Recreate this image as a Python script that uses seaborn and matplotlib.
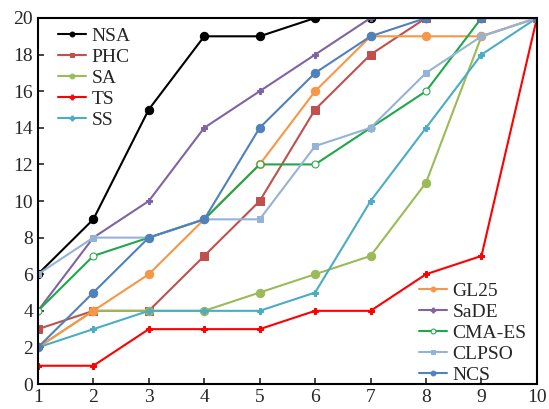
import numpy as np
import pandas as pd
import seaborn as sns
import matplotlib.pyplot as plt

sns.set_style("ticks")
plt.rcParams['font.family'] = ['Liberation Serif', 'DejaVu Serif']

# ---------------------------------------------------------
# data
# ---------------------------------------------------------
x_vals = list(range(1, 11))
nsa   = [6, 9, 15, 19, 19, 20, 20, 20, 20, 20]
phc   = [3, 4, 4, 7, 10, 15, 18, 20, 20, 20]
sa    = [2, 4, 4, 4, 5, 6, 7, 11, 19, 20]
ts    = [1, 1, 3, 3, 3, 4, 4, 6, 7, 20]
ss    = [2, 3, 4, 4, 4, 5, 10, 14, 18, 20]
gl25  = [2, 4, 6, 9, 12, 16, 19, 19, 19, 20]
sade  = [4, 8, 10, 14, 16, 18, 20, 20, 20, 20]
cmaes = [4, 7, 8, 9, 12, 12, 14, 16, 20, 20]
clpso = [6, 8, 8, 9, 9, 13, 14, 17, 19, 20]
ncs   = [2, 5, 8, 9, 14, 17, 19, 20, 20, 20]

series = {"NSA": nsa, "PHC": phc, "SA": sa, "TS": ts, "SS": ss,
          "GL25": gl25, "SaDE": sade, "CMA-ES": cmaes, "CLPSO": clpso, "NCS": ncs}

styles = {
    "NSA":    dict(color="#000000", marker="o", ms=6, mfc="#000000"),
    "PHC":    dict(color="#C0504D", marker="s", ms=6, mfc="#C0504D"),
    "SA":     dict(color="#9BBB59", marker="o", ms=6, mfc="#9BBB59"),
    "TS":     dict(color="#FF0000", marker="P", ms=5, mfc="#FF0000"),
    "SS":     dict(color="#4BACC6", marker="P", ms=5, mfc="#4BACC6"),
    "GL25":   dict(color="#F79646", marker="o", ms=6, mfc="#F79646"),
    "SaDE":   dict(color="#8064A2", marker="P", ms=4, mfc="#8064A2"),
    "CMA-ES": dict(color="#1EA84A", marker="o", ms=5, mfc="white"),
    "CLPSO":  dict(color="#95B3D7", marker="s", ms=4, mfc="#95B3D7"),
    "NCS":    dict(color="#4F81BD", marker="o", ms=6, mfc="#4F81BD"),
}

df = pd.DataFrame([(n, x, y) for n, ys in series.items() for x, y in zip(x_vals, ys)],
                  columns=["alg", "x", "y"])

fig = plt.figure(figsize=(5.49, 4.09), dpi=100)
ax = fig.add_axes([0.069, 0.061, 0.909, 0.895])

lines = {}
for name in series:
    st = styles[name]
    sub = df[df["alg"] == name]
    sns.lineplot(data=sub, x="x", y="y", ax=ax, color=st["color"], marker=st["marker"],
                 markersize=st["ms"], markerfacecolor=st["mfc"], markeredgecolor=st["color"],
                 linewidth=1.5, label=name, legend=False)
    lines[name] = ax.get_lines()[-1]

ax.set_xlim(1, 10)
ax.set_ylim(0, 20)
ax.set_xticks(x_vals)
ax.set_yticks(range(0, 21, 2))
ax.set_xlabel("")
ax.set_ylabel("")
ax.tick_params(direction="in", labelsize=14, length=4, width=1.2)
for sp in ax.spines.values():
    sp.set_linewidth(1.5)
    sp.set_visible(True)
    sp.set_color("black")

first = ["NSA", "PHC", "SA", "TS", "SS"]
second = ["GL25", "SaDE", "CMA-ES", "CLPSO", "NCS"]
leg_kw = dict(frameon=False, fontsize=14, handlelength=1.44, handletextpad=0.3,
              labelspacing=0.18, borderpad=0.1)
leg1 = ax.legend([lines[n] for n in first], first, loc="upper left",
                 bbox_to_anchor=(0.017, 1.007), **leg_kw)
ax.add_artist(leg1)
leg2 = ax.legend([lines[n] for n in second], second, loc="lower right",
                 bbox_to_anchor=(1.003, -0.032), **leg_kw)
for lg in (leg1, leg2):
    for h in lg.legend_handles:
        h.set_markersize(3.5)

fig.savefig("out.png", dpi=100)
